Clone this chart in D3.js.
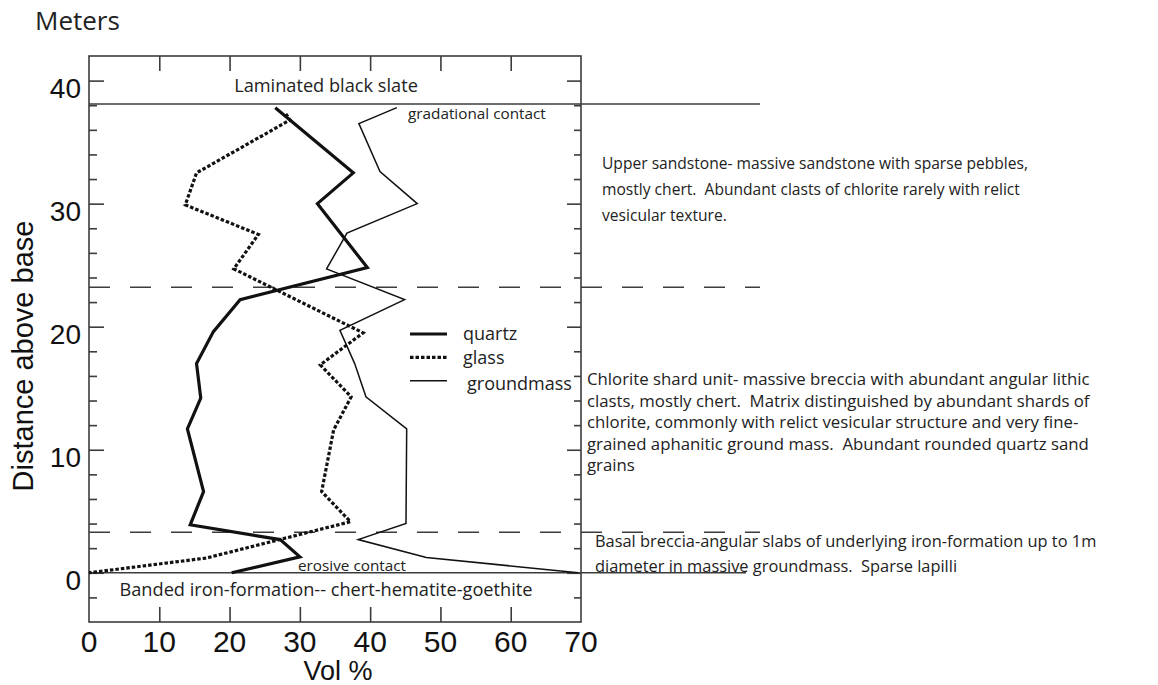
<!DOCTYPE html>
<html>
<head>
<meta charset="utf-8">
<script src="https://cdn.jsdelivr.net/npm/d3@7"></script>
<style>
  html, body { margin: 0; padding: 0; background: #fff; }
  svg { display: block; }
</style>
</head>
<body>
<div id="chart"></div>
<script>
const W = 1158, H = 685;

// ---- data ----
const volTicks = [0, 10, 20, 30, 40, 50, 60, 70];
const depthTicks = [0, 10, 20, 30, 40];
const depthMinor = [-2, 2, 4, 6, 8, 12, 14, 16, 18, 22, 24, 26, 28, 32, 34, 36, 38];

const quartzVol   = [26.5, 37.6, 32.5, 39.6, 21.5, 17.7, 15.3, 15.9, 14.0, 16.3, 14.4, 27.2, 30.0, 20.3];
const quartzDepth = [37.8, 32.5, 30.0, 24.8, 22.2, 19.6, 17.0, 14.2, 11.7, 6.6, 3.9, 2.7, 1.3, 0.0];

const glassVol   = [28.0, 28.6, 15.3, 13.7, 24.1, 20.6, 39.0, 32.9, 37.3, 34.8, 33.1, 37.2, 16.7, 0];
const glassDepth = [37.3, 36.8, 32.5, 29.9, 27.5, 24.7, 19.5, 16.9, 14.3, 11.6, 6.6, 4.15, 1.2, 0];

const groundVol   = [43.8, 38.4, 41.4, 46.7, 36.7, 33.8, 44.9, 35.7, 37.8, 39.4, 45.2, 45.1, 38.3, 48.0, 69.6];
const groundDepth = [37.8, 36.5, 32.6, 30.0, 27.6, 24.7, 22.2, 19.7, 17.0, 14.3, 11.7, 4.0, 2.7, 1.25, 0];

const seriesNames = ["quartz", "glass", "groundmass"];

const contactDepth = [38.1, 23.2, 3.3, 0];
const contactKind  = ["solid", "dashed", "dashed", "solid"];

const upperText = [
  "Upper sandstone- massive sandstone with sparse pebbles,",
  "mostly chert.  Abundant clasts of chlorite rarely with relict",
  "vesicular texture."
];
const chloriteText = [
  "Chlorite shard unit- massive breccia with abundant angular lithic",
  "clasts, mostly chert.  Matrix distinguished by abundant shards of",
  "chlorite, commonly with relict vesicular structure and very fine-",
  "grained aphanitic ground mass.  Abundant rounded quartz sand",
  "grains"
];
const basalText = [
  "Basal breccia-angular slabs of underlying iron-formation up to 1m",
  "diameter in massive groundmass.  Sparse lapilli"
];

// ---- layout ----
const plotL = 89, plotR = 581, plotT = 56, plotB = 622;
const contactEnd = [760, 760, 760, 746];
const ink = "#111";
const frame = "#3c3c3c";
const labelFont = "'Open Sans', sans-serif";
const numFont = "'Liberation Sans', Arial, sans-serif";

const svg = d3.select("#chart").append("svg")
    .attr("width", W)
    .attr("height", H)
    .attr("viewBox", `0 0 ${W} ${H}`);

const x = d3.scaleLinear().domain([0, 70]).range([plotL, plotR]);
const y = d3.scaleLinear().domain([-4, 42]).range([plotB, plotT]);

// frame
svg.append("rect")
    .attr("x", plotL).attr("y", plotT)
    .attr("width", plotR - plotL).attr("height", plotB - plotT)
    .attr("fill", "none").attr("stroke", frame).attr("stroke-width", 1.6);

// axes (ticks point inward)
function styleAxis(g) {
    g.select(".domain").remove();
    g.selectAll(".tick line").attr("stroke", frame).attr("stroke-width", 1.6);
}

const inner = volTicks.filter(v => v > 0 && v < 70);

svg.append("g").attr("transform", `translate(0,${plotB})`)
    .call(d3.axisBottom(x).tickValues(inner).tickSize(-15).tickFormat(""))
    .call(styleAxis);
svg.append("g").attr("transform", `translate(0,${plotT})`)
    .call(d3.axisTop(x).tickValues(inner).tickSize(-15).tickFormat(""))
    .call(styleAxis);

svg.append("g").attr("transform", `translate(${plotL},0)`)
    .call(d3.axisLeft(y).tickValues(depthTicks).tickSize(-15).tickFormat(""))
    .call(styleAxis);
svg.append("g").attr("transform", `translate(${plotL},0)`)
    .call(d3.axisLeft(y).tickValues(depthMinor).tickSize(-8).tickFormat(""))
    .call(styleAxis);
svg.append("g").attr("transform", `translate(${plotR},0)`)
    .call(d3.axisRight(y).tickValues(depthTicks).tickSize(-14).tickFormat(""))
    .call(styleAxis);
svg.append("g").attr("transform", `translate(${plotR},0)`)
    .call(d3.axisRight(y).tickValues(depthMinor).tickSize(-7).tickFormat(""))
    .call(styleAxis);

// tick labels
svg.append("g").selectAll("text")
    .data(volTicks).enter().append("text")
    .attr("x", d => x(d)).attr("y", plotB + 30)
    .attr("text-anchor", "middle")
    .style("font-family", numFont).style("font-size", "30px")
    .attr("fill", ink)
    .text(d => d);

svg.append("g").selectAll("text")
    .data(depthTicks).enter().append("text")
    .attr("x", plotL - 8).attr("y", d => y(d) + 17)
    .attr("text-anchor", "end")
    .style("font-family", numFont).style("font-size", "28px")
    .attr("fill", ink)
    .text(d => d);

// axis titles
svg.append("text")
    .attr("x", (plotL + plotR) / 2 + 3).attr("y", 680)
    .attr("text-anchor", "middle")
    .style("font-family", numFont).style("font-size", "27px")
    .attr("fill", ink)
    .text("Vol %");

svg.append("text")
    .attr("transform", "translate(33,356) rotate(-90)")
    .attr("text-anchor", "middle")
    .style("font-family", numFont).style("font-size", "29px")
    .attr("fill", ink)
    .text("Distance above base");

svg.append("text")
    .attr("x", 35).attr("y", 30)
    .style("font-family", labelFont).style("font-size", "26px")
    .attr("fill", "#222")
    .text("Meters");

// contact lines
contactDepth.forEach((d, i) => {
    svg.append("line")
        .attr("x1", x(0)).attr("x2", contactEnd[i])
        .attr("y1", y(d)).attr("y2", y(d))
        .attr("stroke", frame)
        .attr("stroke-width", 1.6)
        .attr("stroke-dasharray", contactKind[i] === "dashed" ? "21,20" : null);
});

// profiles
const line = d3.line().x(d => x(d[0])).y(d => y(d[1]));
const profiles = [
    { vol: quartzVol, depth: quartzDepth, width: 3.2, dash: null },
    { vol: glassVol, depth: glassDepth, width: 3.2, dash: "3.5,2" },
    { vol: groundVol, depth: groundDepth, width: 1.5, dash: null }
];

profiles.forEach(p => {
    svg.append("path")
        .datum(p.vol.map((v, i) => [v, p.depth[i]]))
        .attr("d", line)
        .attr("fill", "none")
        .attr("stroke", ink)
        .attr("stroke-width", p.width)
        .attr("stroke-linejoin", "miter")
        .attr("stroke-dasharray", p.dash);
});

// legend
const legendY = [334, 357.3, 380.7];
const legendTextY = [340, 364, 390];
profiles.forEach((p, i) => {
    svg.append("line")
        .attr("x1", 410).attr("x2", 447)
        .attr("y1", legendY[i]).attr("y2", legendY[i])
        .attr("stroke", ink)
        .attr("stroke-width", p.width)
        .attr("stroke-dasharray", p.dash);
    svg.append("text")
        .attr("x", i === 2 ? 467 : 463).attr("y", legendTextY[i])
        .style("font-family", labelFont).style("font-size", "18px")
        .attr("fill", "#222")
        .text(seriesNames[i]);
});

// unit labels inside the plot
function label(txt, px, py, size, anchor) {
    svg.append("text")
        .attr("x", px).attr("y", py)
        .attr("text-anchor", anchor || "start")
        .style("font-family", labelFont).style("font-size", size + "px")
        .attr("fill", "#222")
        .text(txt);
}
label("Laminated black slate", 326, 92, 18.2, "middle");
label("Banded iron-formation-- chert-hematite-goethite", 326, 596, 18.2, "middle");
label("gradational contact", 408, 119, 15.3);
label("erosive contact", 298, 570.5, 15.3);

// descriptions on the right
function block(lines, px, py, lh, size) {
    const t = svg.append("text")
        .style("font-family", labelFont).style("font-size", size + "px")
        .style("white-space", "pre")
        .attr("fill", "#222");
    lines.forEach((s, i) => {
        t.append("tspan").attr("x", px).attr("y", py + i * lh).text(s);
    });
}
block(upperText, 602, 169, 26, 15.6);
block(chloriteText, 587, 385, 21.5, 16.8);
block(basalText, 595, 547, 25, 16.4);
</script>
</body>
</html>
